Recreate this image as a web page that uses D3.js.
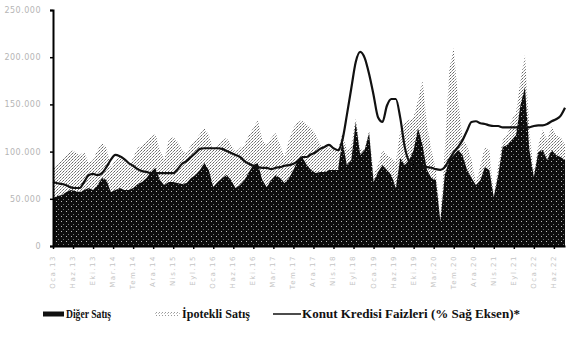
<!DOCTYPE html>
<html><head><meta charset="utf-8">
<script src="https://cdn.jsdelivr.net/npm/d3@7"></script>
<style>
html,body{margin:0;padding:0;background:#fff;}
svg{display:block;}
</style></head>
<body>
<svg id="c" width="566" height="338"></svg>
<script>
// Monthly data, Jan 2013 onward (thousands of units)
const monthNames = ["Oca","Şub","Mar","Nis","May","Haz","Tem","Ağu","Eyl","Eki","Kas","Ara"];
const startYear = 2013;
const digerSatis = [50.8,53.0,54.0,57.2,59.3,58.2,57.2,59.3,61.4,59.3,64.6,72.0,
 69.9,57.2,59.3,61.4,59.3,59.3,61.4,65.7,67.8,72.0,78.4,82.6,
 69.9,64.6,67.8,67.8,66.7,65.7,66.7,72.0,75.2,80.5,87.9,80.5,
 62.5,67.8,72.0,75.2,69.9,61.4,64.6,69.9,78.4,85.8,87.9,69.9,
 62.5,69.9,75.2,72.0,66.7,72.0,80.5,91.1,94.3,85.8,80.5,77.3,
 78.4,78.4,80.5,80.5,80.5,112.3,85.8,91.1,131.3,96.4,101.7,119.7,
 67.8,78.4,85.8,80.5,75.2,61.4,93.2,85.8,91.1,101.7,125.0,107.0,
 80.5,72.0,69.9,26.5,75.2,91.1,96.4,101.7,96.4,80.5,72.0,64.6,
 69.9,83.7,80.5,51.9,75.2,104.8,107.0,112.3,117.5,149.3,168.4,101.7,
 73.1,99.5,101.7,91.1,101.7,96.4,94.3,91.1];
const ipotekliSatis = [32.8,32.8,37.1,39.2,42.4,41.3,39.2,40.2,26.5,31.8,37.1,37.1,
 33.9,26.5,31.8,34.9,33.9,24.4,31.8,38.1,39.2,38.1,37.1,36.0,
 31.8,26.5,44.5,47.7,43.4,36.0,31.8,34.9,37.1,38.1,37.1,37.1,
 39.2,39.2,40.2,39.2,37.1,38.1,39.2,37.1,39.2,39.2,45.5,42.4,
 44.5,44.5,44.5,34.9,27.5,40.2,44.5,40.2,39.2,42.4,44.5,40.2,
 28.6,26.5,23.3,21.2,21.2,7.4,15.9,15.9,4.2,5.3,2.1,3.2,
 7.4,7.4,15.9,15.9,18.0,27.5,29.7,45.5,42.4,34.9,29.7,68.8,
 47.7,29.7,10.6,3.2,26.5,95.3,113.3,53.0,15.9,26.5,19.1,2.1,
 15.9,21.2,21.2,1.0,10.6,7.4,10.6,21.2,23.3,26.5,33.9,21.2,
 4.2,7.4,21.2,21.2,24.4,21.2,21.2,15.9];
const konutKrediFaizi = [9.5,9.3,9.2,9.0,8.7,8.6,8.6,9.5,10.5,10.7,10.5,10.8,
 11.7,12.8,13.5,13.3,12.9,12.3,11.9,11.4,11.1,11.0,10.8,10.8,
 10.8,10.8,10.8,10.8,11.4,12.2,12.6,13.2,13.8,14.4,14.5,14.5,
 14.5,14.5,14.4,14.1,13.8,13.5,13.2,12.6,12.2,11.9,11.7,11.6,
 11.6,11.4,11.6,11.7,11.9,12.0,12.2,12.6,13.2,13.2,13.6,13.9,
 14.4,14.7,15.0,14.5,14.2,15.7,19.4,23.4,27.3,28.8,27.9,25.5,
 22.4,19.1,18.4,20.8,21.8,21.8,19.0,14.7,12.6,12.2,11.9,11.7,
 11.7,11.6,11.4,11.3,11.7,12.8,13.9,14.7,15.7,17.1,18.4,18.5,
 18.2,18.1,17.9,17.8,17.8,17.6,17.6,17.6,17.6,17.6,17.6,17.6,
 17.8,17.9,17.9,18.1,18.5,18.8,19.3,20.5];
const yTicks = [0,50,100,150,200,250];
const seriesNames = ["Diğer Satış","İpotekli Satış","Konut Kredisi Faizleri (% Sağ Eksen)*"];

const months = digerSatis.map((d,i)=> monthNames[i%12] + "." + String((startYear + Math.floor(i/12))%100).padStart(2,"0"));
const rows = digerSatis.map((d,i)=>({i, diger:d, ipotekli:ipotekliSatis[i], faiz:konutKrediFaizi[i]}));

const svg = d3.select("#c");
const defs = svg.append("defs");
// stipple patterns to mimic the scanned print
const pd = defs.append("pattern").attr("id","darkPat").attr("width",5).attr("height",5).attr("patternUnits","userSpaceOnUse");
pd.append("rect").attr("width",5).attr("height",5).attr("fill","#0d0d0d");
pd.append("rect").attr("x",1).attr("y",1).attr("width",1).attr("height",1).attr("fill","#bbb");
pd.append("rect").attr("x",3).attr("y",4).attr("width",1).attr("height",1).attr("fill","#777");
const pl = defs.append("pattern").attr("id","lightPat").attr("width",3).attr("height",3).attr("patternUnits","userSpaceOnUse");
pl.append("rect").attr("width",3).attr("height",3).attr("fill","#fff");
pl.append("rect").attr("x",0).attr("y",0).attr("width",1).attr("height",1).attr("fill","#666");
pl.append("rect").attr("x",2).attr("y",1).attr("width",1).attr("height",1).attr("fill","#888");
pl.append("rect").attr("x",1).attr("y",2).attr("width",1).attr("height",1).attr("fill","#aaa");
const pleg = defs.append("pattern").attr("id","legPat").attr("width",3).attr("height",3).attr("patternUnits","userSpaceOnUse");
pleg.append("rect").attr("width",3).attr("height",3).attr("fill","#fff");
pleg.append("rect").attr("width",1).attr("height",1).attr("fill","#999");
pleg.append("rect").attr("x",2).attr("y",1).attr("width",1).attr("height",1).attr("fill","#bbb");

const x = d3.scaleLinear().domain([0, rows.length-1]).range([53, 565]);
const y = d3.scaleLinear().domain([0,250]).range([246,10]);
const yR = d3.scaleLinear().domain([0,35]).range([246,10]);

const stack = d3.stack().keys(["diger","ipotekli"]);
const layers = stack(rows);
const area = d3.area().x(d=>x(d.data.i)).y0(d=>y(d[0])).y1(d=>y(d[1])).curve(d3.curveLinear);

svg.append("path").datum(layers[1]).attr("d",area).attr("fill","url(#lightPat)");
svg.append("path").datum(layers[0]).attr("d",area).attr("fill","url(#darkPat)");

const line = d3.line().x(d=>x(d.i)).y(d=>yR(d.faiz)).curve(d3.curveMonotoneX);
svg.append("path").datum(rows).attr("d",line).attr("fill","none").attr("stroke","#111").attr("stroke-width",2.2);

// Y axis
const yAxis = svg.append("g").attr("transform","translate(53,0)")
  .call(d3.axisLeft(y).tickValues(yTicks).tickSize(3)
    .tickFormat(d=> d===0 ? "0" : d3.format(",")(d*1000).replace(/,/g,".")));
yAxis.select(".domain").attr("stroke","#000").attr("stroke-width",2);
yAxis.selectAll(".tick line").attr("stroke","#000").attr("stroke-width",1.5);
yAxis.selectAll(".tick text").attr("x",-12).attr("fill","#b5b5b5")
  .attr("font-family","DejaVu Sans").attr("font-size",8).attr("letter-spacing",0.5);

// X axis
const tickIdx = d3.range(0, rows.length, 4.5).map(v=>Math.round(v*2)/2);
const xAxis = svg.append("g").attr("transform","translate(0,246)")
  .call(d3.axisBottom(x).tickValues(tickIdx).tickSize(3).tickSizeOuter(0)
    .tickFormat(v=>months[Math.round(v)] || ""));
xAxis.select(".domain").attr("stroke","#000").attr("stroke-width",2);
xAxis.selectAll(".tick line").attr("stroke","#000").attr("stroke-width",1.5);
xAxis.selectAll(".tick text").attr("transform","rotate(-90)").attr("text-anchor","end")
  .attr("x",-9).attr("y",-1).attr("dy","0.35em").attr("fill","#c4c4c4")
  .attr("font-family","DejaVu Sans").attr("font-size",7).attr("letter-spacing",1.5);

// Legend
const leg = svg.append("g").attr("font-family","Liberation Serif").attr("font-weight","bold")
  .attr("font-size",12).attr("fill","#111");
const legItems = [
  {x:43, w:21, kind:"dark", tx:66, tw:45},
  {x:155, w:25, kind:"light", tx:182, tw:68},
  {x:273, w:28, kind:"line", tx:302, tw:218}
];
legItems.forEach((it,k)=>{
  const ly = 314;
  if(it.kind==="dark") leg.append("line").attr("x1",it.x).attr("x2",it.x+it.w).attr("y1",ly).attr("y2",ly).attr("stroke","#111").attr("stroke-width",5);
  else if(it.kind==="light") leg.append("rect").attr("x",it.x).attr("y",ly-2).attr("width",it.w).attr("height",4).attr("fill","url(#legPat)");
  else leg.append("line").attr("x1",it.x).attr("x2",it.x+it.w).attr("y1",ly).attr("y2",ly).attr("stroke","#111").attr("stroke-width",1.5);
  leg.append("text").attr("x",it.tx).attr("y",ly+4).attr("textLength",it.tw).attr("lengthAdjust","spacingAndGlyphs").text(seriesNames[k]);
});
</script>
</body></html>
